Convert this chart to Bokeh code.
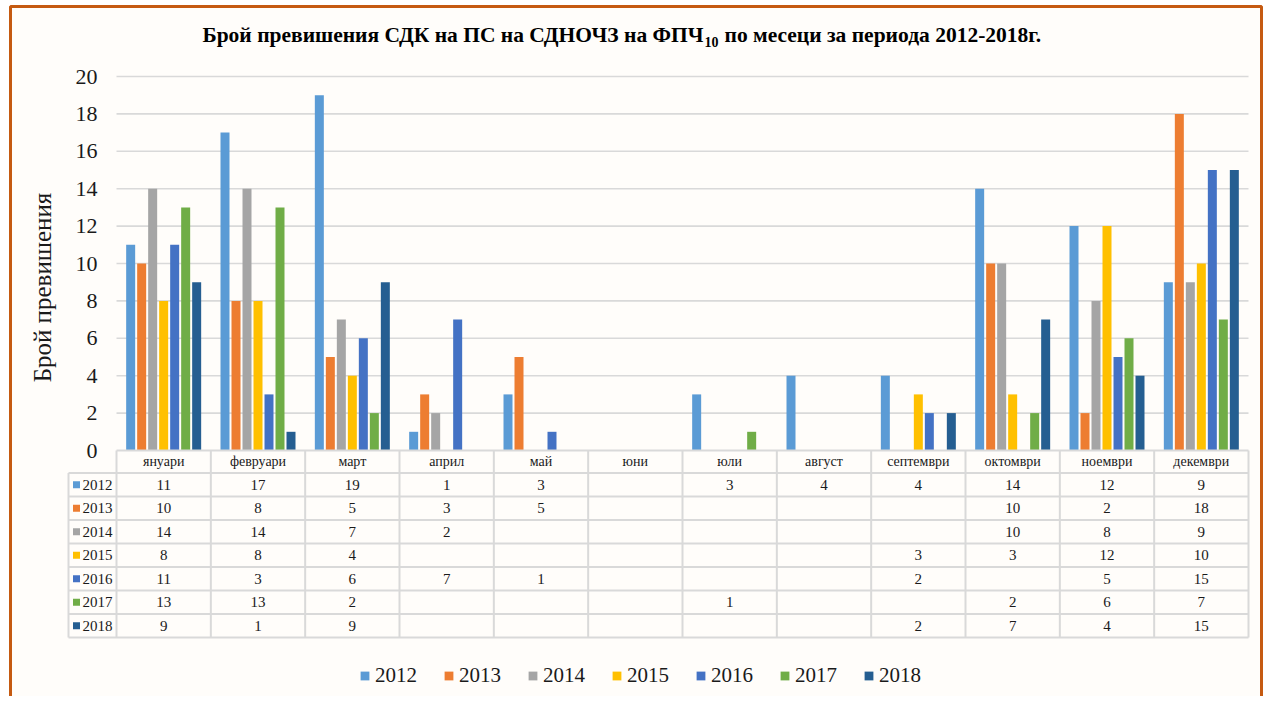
from bokeh.plotting import figure
from bokeh.models import Range1d, Legend, LegendItem
from bokeh.core.properties import value
from bokeh.embed import file_html
from bokeh.resources import INLINE

months = ["януари", "февруари", "март", "април", "май", "юни", "юли",
          "август", "септември", "октомври", "ноември", "декември"]
years = ["2012", "2013", "2014", "2015", "2016", "2017", "2018"]
v2012 = [11, 17, 19, 1, 3, None, 3, 4, 4, 14, 12, 9]
v2013 = [10, 8, 5, 3, 5, None, None, None, None, 10, 2, 18]
v2014 = [14, 14, 7, 2, None, None, None, None, None, 10, 8, 9]
v2015 = [8, 8, 4, None, None, None, None, None, 3, 3, 12, 10]
v2016 = [11, 3, 6, 7, 1, None, None, None, 2, None, 5, 15]
v2017 = [13, 13, 2, None, None, None, 1, None, None, 2, 6, 7]
v2018 = [9, 1, 9, None, None, None, None, None, 2, 7, 4, 15]
series = [v2012, v2013, v2014, v2015, v2016, v2017, v2018]
colors = ["#5b9bd5", "#ed7d31", "#a5a5a5", "#ffc000", "#4472c4", "#70ad47", "#255e91"]
yticks = list(range(0, 21, 2))
title_a = "Брой превишения СДК на ПС на СДНОЧЗ на ФПЧ"
title_sub = "10"
title_b = "по месеци за периода 2012-2018г."
y_title = "Брой превишения"

FONT = value("Liberation Serif")
TXT = "#1a1a1a"
GRID = "#d9d9d9"
BG = "#fffdfa"

# layout helpers (canvas pixels -> data units)
COLW = (1248 - 116) / 12.0
ROWU = (450 - 76) / 20.0


def X(px):
    return (px - 116) / COLW


def Y(py):
    return (450 - py) / ROWU


W, H = 1272, 696
p = figure(width=W, height=H, output_backend="svg", toolbar_location=None,
           x_range=Range1d(X(0), X(W)), y_range=Range1d(Y(H), Y(0)),
           x_axis_type=None, y_axis_type=None, min_border=0,
           background_fill_color="#ffffff", border_fill_color="#ffffff",
           outline_line_color=None)
p.grid.visible = False

# chart area background and frame border (bottom edge lies below the canvas)
p.quad(left=[X(10)], right=[X(1261)], top=[Y(6)], bottom=[Y(H + 20)],
       fill_color=BG, line_color="#c55a11", line_width=3)

# gridlines
gy = [t for t in yticks if t > 0]
p.segment(x0=[0] * len(gy), x1=[12] * len(gy), y0=gy, y1=gy, line_color=GRID, line_width=1.6)

# bars
BSTEP = 11.0 / COLW
BW = 9.0 / COLW
renderers = []
for k, (vals, col) in enumerate(zip(series, colors)):
    xs = [i + 0.5 + (k - 3) * BSTEP for i, v in enumerate(vals) if v is not None]
    tops = [v for v in vals if v is not None]
    r = p.vbar(x=xs, top=tops, bottom=0, width=BW, fill_color=col, line_color=None)
    renderers.append(r)

# table
hdr_bot = Y(472.5)
row_h = 23.5 / ROWU
nrows = len(years)
tbl_bot = hdr_bot - row_h * nrows
xl = X(68)
p.segment(x0=[0], x1=[12], y0=[0], y1=[0], line_color=GRID, line_width=2)
hl_y = [hdr_bot - row_h * j for j in range(nrows + 1)]
p.segment(x0=[xl] * len(hl_y), x1=[12] * len(hl_y), y0=hl_y, y1=hl_y, line_color=GRID, line_width=2)
vx = list(range(13))
p.segment(x0=vx, x1=vx, y0=[0] * 13, y1=[tbl_bot] * 13, line_color=GRID, line_width=2)
p.segment(x0=[xl], x1=[xl], y0=[hdr_bot], y1=[tbl_bot], line_color=GRID, line_width=2)

# header text
p.text(x=[i + 0.5 for i in range(12)], y=[hdr_bot / 2] * 12, text=months,
       text_font=FONT, text_font_size=value("14px"), text_color=TXT,
       text_align="center", text_baseline="middle")

# cell values
cx, cy, ct = [], [], []
for j, vals in enumerate(series):
    ymid = hdr_bot - row_h * (j + 0.5)
    for i, v in enumerate(vals):
        if v is not None:
            cx.append(i + 0.5)
            cy.append(ymid)
            ct.append(str(v))
p.text(x=cx, y=cy, text=ct, text_font=FONT, text_font_size=value("15px"), text_color=TXT,
       text_align="center", text_baseline="middle")

# row labels
rys = [hdr_bot - row_h * (j + 0.5) for j in range(nrows)]
p.scatter(x=[X(76)] * nrows, y=rys, marker="square", size=7, fill_color=colors, line_color=None)
p.text(x=[X(82)] * nrows, y=rys, text=years, text_font=FONT, text_font_size=value("15px"),
       text_color=TXT, text_align="left", text_baseline="middle")

# y tick labels
p.text(x=[X(97)] * len(yticks), y=yticks, text=[str(t) for t in yticks], text_font=FONT,
       text_font_size=value("22px"), text_color=TXT, text_align="right", text_baseline="middle")

# y axis title
p.text(x=[X(42)], y=[Y(287)], text=[y_title], text_font=FONT, text_font_size=value("25px"),
       text_color=TXT, text_align="center", text_baseline="middle", angle=1.5708)

# chart title
p.text(x=[X(703)], y=[Y(34)], text=[title_a], text_font=FONT, text_font_size=value("21.5px"),
       text_font_style="bold", text_color="#000000", text_align="right", text_baseline="middle")
p.text(x=[X(704)], y=[Y(41)], text=[title_sub], text_font=FONT, text_font_size=value("14px"),
       text_font_style="bold", text_color="#000000", text_align="left", text_baseline="middle")
p.text(x=[X(724)], y=[Y(34)], text=[title_b], text_font=FONT, text_font_size=value("21.5px"),
       text_font_style="bold", text_color="#000000", text_align="left", text_baseline="middle")

legend = Legend(items=[LegendItem(label=yr, renderers=[r]) for yr, r in zip(years, renderers)],
                orientation="horizontal", location=(359, 8),
                label_text_font="Liberation Serif", label_text_font_size="21px",
                label_text_color=TXT, glyph_width=11, glyph_height=11, label_standoff=5,
                spacing=26, padding=0, margin=0, border_line_color=None,
                background_fill_alpha=0)
p.add_layout(legend)

open("out.html", "w").write(file_html(p, INLINE))
